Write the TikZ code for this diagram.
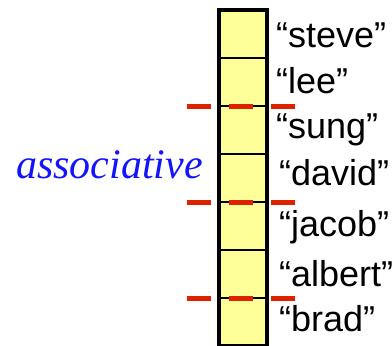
\documentclass[tikz,border=0pt]{standalone}
\usepackage{fontspec}
\setmainfont{Liberation Sans}
\newfontfamily\labelserif{Liberation Serif}
\definecolor{cellfill}{RGB}{255,255,153}
\definecolor{cutred}{RGB}{221,34,0}
\definecolor{tagblue}{RGB}{20,20,250}
\begin{document}
\begin{tikzpicture}[x=1pt,y=-1pt,
  cell/.style={draw=black, line width=2pt, fill=cellfill, minimum width=48pt, minimum height=48pt, inner sep=0pt, outer sep=0pt},
  key/.style={anchor=base west, inner sep=0pt, font=\fontsize{36}{40}\selectfont},
  cut/.style={draw=cutred, line width=5pt, dash pattern=on 24pt off 18pt}]
\useasboundingbox (0,0) rectangle (392,346);
% the column of seven buckets
\foreach \i in {1,...,7}{
  \node[cell] (c\i) at (243,{10+48*\i-24}) {};
}
\draw[line width=4pt] (c1.north west) rectangle (c7.south east);
% stored keys
\node[key] (k1) at (276,47) {“steve”};
\node[key] (k2) at (276,93) {“lee”};
\node[key] (k3) at (276,138) {“sung”};
\node[key] (k4) at (279,185) {“david”};
\node[key] (k5) at (279,236) {“jacob”};
\node[key] (k6) at (279,286) {“albert”};
\node[key] (k7) at (279,331) {“brad”};
% label
\node[anchor=base west, inner sep=0pt, text=tagblue, font=\labelserif\itshape\fontsize{42}{46}\selectfont] (lbl) at (16,178) {associative};
% partition cuts across the column
\coordinate (a1) at (187,106); \coordinate (b1) at (295,106);
\coordinate (a2) at (187,202); \coordinate (b2) at (295,202);
\coordinate (a3) at (187,298); \coordinate (b3) at (295,298);
\draw[cut] (a1) -- (b1);
\draw[cut] (a2) -- (b2);
\draw[cut] (a3) -- (b3);
\end{tikzpicture}
\end{document}
